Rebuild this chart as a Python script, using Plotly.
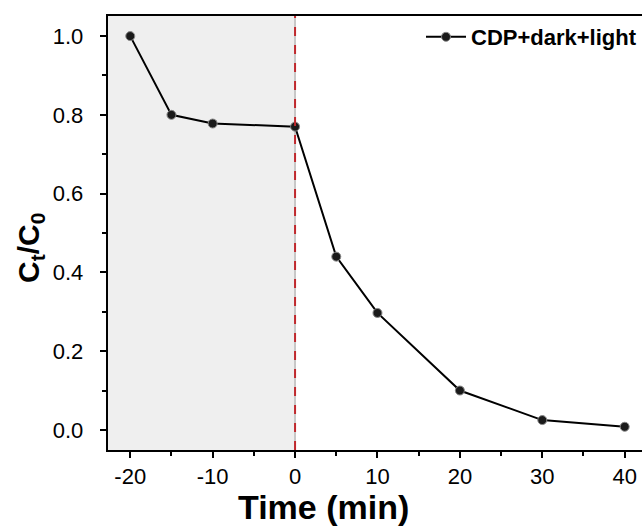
import plotly.graph_objects as go

time_min = [-20, -15, -10, 0, 5, 10, 20, 30, 40]
ct_c0 = [1.0, 0.80, 0.778, 0.77, 0.44, 0.297, 0.10, 0.025, 0.008]
series_name = "CDP+dark+light"
x_ticks = [-20, -10, 0, 10, 20, 30, 40]
y_ticks = [0.0, 0.2, 0.4, 0.6, 0.8, 1.0]

xr = [-22.7, 42.1]
yr = [-0.051, 1.051]
L, R, T, B = 108, 0, 16, 76
W, H = 642, 526
pw, ph = W - L - R, H - T - B

fig = go.Figure()
fig.add_trace(go.Scatter(
    x=time_min, y=ct_c0, mode="lines+markers", name=series_name,
    line=dict(color="black", width=2),
    marker=dict(size=9, color="#1a1a1a", line=dict(color="#888", width=1)),
))

fig.add_shape(type="rect", xref="x", yref="paper", x0=xr[0], x1=0, y0=0, y1=1,
              fillcolor="#efefef", line_width=0, layer="below")
fig.add_shape(type="line", xref="x", yref="paper", x0=0, x1=0, y0=0, y1=1,
              line=dict(color="#999", width=1), layer="below")
fig.add_shape(type="line", xref="x", yref="paper", x0=0, x1=0, y0=0, y1=1,
              line=dict(color="#c0282d", width=2, dash="dash"), layer="above")

fnt = "Arial, Liberation Sans"
axis_font = dict(family=fnt, size=22, color="black")
pad = "<span style='color:rgba(0,0,0,0)'>..</span>"

fig.add_annotation(text="Time (min)", xref="paper", yref="paper",
                   x=(323 - L) / pw, y=-(507 - (T + ph)) / ph, xanchor="center", yanchor="middle",
                   showarrow=False, font=dict(family=fnt, size=34, color="black", weight="bold"))
fig.add_annotation(text="<b>C<sub>t</sub>/C<sub>0</sub></b>", xref="paper", yref="paper",
                   x=(30 - L) / pw, y=(T + ph - 248) / ph, xanchor="center", yanchor="middle",
                   textangle=-90, showarrow=False, font=dict(family=fnt, size=30, color="black"))

fig.update_layout(
    width=W, height=H,
    margin=dict(l=L, r=R, t=T, b=B),
    plot_bgcolor="white", paper_bgcolor="white",
    font=dict(family=fnt, color="black"),
    showlegend=True,
    legend=dict(x=1, y=1, xanchor="right", yanchor="top", bgcolor="rgba(0,0,0,0)",
                font=dict(family=fnt, size=22, color="black", weight="bold"),
                itemwidth=40, borderwidth=0),
    xaxis=dict(range=xr, tickvals=x_ticks, ticktext=[str(v) for v in x_ticks],
               ticks="outside", ticklen=6, tickwidth=2, tickcolor="black",
               showline=True, linecolor="black", linewidth=2, mirror=True,
               showgrid=False, zeroline=False, tickfont=axis_font, automargin=False,
               minor=dict(dtick=5, ticks="outside", ticklen=4, tickwidth=2, tickcolor="black")),
    yaxis=dict(range=yr, tickvals=y_ticks,
               ticktext=[f"{v:.1f}{pad}" for v in y_ticks],
               ticks="outside", ticklen=6, tickwidth=2, tickcolor="black",
               showline=True, linecolor="black", linewidth=2, mirror=True,
               showgrid=False, zeroline=False, tickfont=axis_font, automargin=False,
               minor=dict(dtick=0.1, ticks="outside", ticklen=4, tickwidth=2, tickcolor="black")),
)

fig.write_html("out.html", config={"displayModeBar": False},
               post_script="document.body.style.margin='0';")
